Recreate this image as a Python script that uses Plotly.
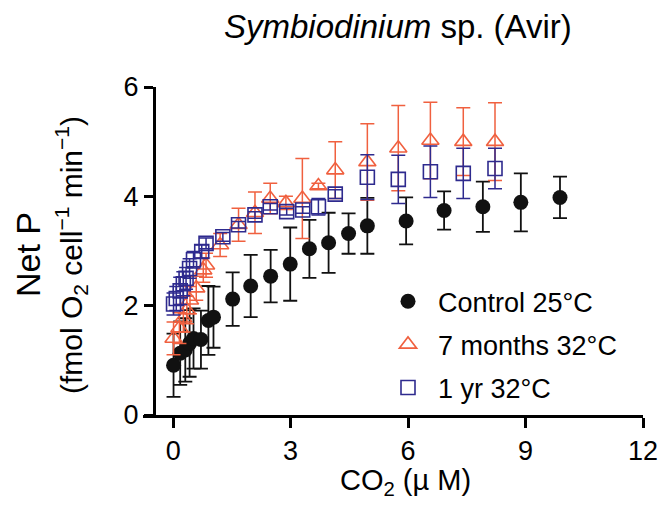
import plotly.graph_objects as go

# ---- data ----
ctrl_x = [0.01, 0.18, 0.31, 0.42, 0.52, 0.71, 0.90, 1.03, 1.52, 1.98, 2.49, 2.99, 3.48, 3.97, 4.48, 4.96, 5.95, 6.92, 7.91, 8.88, 9.88]
ctrl_y = [0.91, 1.13, 1.19, 1.31, 1.40, 1.38, 1.73, 1.79, 2.12, 2.36, 2.54, 2.76, 3.04, 3.15, 3.32, 3.46, 3.55, 3.74, 3.81, 3.89, 3.98]
ctrl_e = [0.58, 0.58, 0.58, 0.61, 0.55, 0.53, 0.63, 0.56, 0.49, 0.57, 0.48, 0.67, 0.53, 0.55, 0.37, 0.51, 0.43, 0.35, 0.46, 0.53, 0.38]

m7_x = [0.01, 0.16, 0.26, 0.35, 0.43, 0.59, 0.77, 0.84, 1.20, 1.67, 2.09, 2.48, 2.88, 3.30, 3.71, 4.14, 4.96, 5.75, 6.57, 7.41, 8.22]
m7_y = [1.40, 1.59, 1.77, 1.92, 2.10, 2.32, 2.65, 2.74, 3.11, 3.48, 3.70, 3.96, 3.88, 3.96, 4.19, 4.48, 4.63, 4.88, 5.02, 5.00, 5.00]
m7_e = [0.30, 0.28, 0.25, 0.25, 0.25, 0.22, 0.22, 0.22, 0.21, 0.30, 0.38, 0.28, 0.12, 0.73, 0.05, 0.52, 0.70, 0.78, 0.70, 0.62, 0.71]

y1_x = [0.01, 0.08, 0.18, 0.26, 0.33, 0.42, 0.52, 0.73, 0.84, 1.27, 1.67, 2.09, 2.48, 2.90, 3.31, 3.71, 4.14, 4.96, 5.75, 6.57, 7.41, 8.22]
y1_y = [2.03, 2.13, 2.27, 2.40, 2.50, 2.68, 2.84, 2.99, 3.14, 3.26, 3.48, 3.66, 3.81, 3.72, 3.75, 3.81, 4.04, 4.35, 4.31, 4.45, 4.42, 4.51]
y1_e = [0.20, 0.22, 0.25, 0.22, 0.20, 0.18, 0.15, 0.12, 0.10, 0.08, 0.06, 0.06, 0.06, 0.06, 0.06, 0.15, 0.08, 0.41, 0.44, 0.47, 0.46, 0.37]

names = ["Control 25°C", "7 months 32°C", "1 yr 32°C"]
x_ticks = [0, 3, 6, 9, 12]
y_ticks = [0, 2, 4, 6]

BLACK = "#111111"
RED = "#F0603F"
BLUE = "#2E2A8E"
FONT = "Liberation Sans, Arial, sans-serif"

fig = go.Figure()
fig.add_trace(go.Scatter(
    x=ctrl_x, y=ctrl_y, mode="markers", name=names[0], legendgroup="a",
    marker=dict(symbol="circle", size=15, color=BLACK),
    error_y=dict(type="data", array=ctrl_e, color=BLACK, thickness=1.8, width=7),
))
fig.add_trace(go.Scatter(
    x=m7_x, y=m7_y, mode="markers", name=names[1], legendgroup="b",
    marker=dict(symbol="triangle-up-open", size=15, color=RED, line=dict(width=1.6, color=RED)),
    error_y=dict(type="data", array=m7_e, color=RED, thickness=1.5, width=7),
))
fig.add_trace(go.Scatter(
    x=y1_x, y=y1_y, mode="markers", name=names[2], legendgroup="c",
    marker=dict(symbol="square-open", size=14, color=BLUE, line=dict(width=1.6, color=BLUE)),
    error_y=dict(type="data", array=y1_e, color=BLUE, thickness=1.5, width=7),
))

x_lo = -0.77
# page body adds an 8px offset; margins compensate so the plot sits at 143..643 x 87..415
fig.update_layout(
    width=667, height=506,
    margin=dict(l=135, r=32, t=79, b=99),
    paper_bgcolor="white", plot_bgcolor="white",
    font=dict(family=FONT, color="black", size=27),
    showlegend=True,
    legend=dict(x=0.47, y=0.42, xanchor="left", yanchor="top",
                font=dict(size=27, family=FONT), tracegroupgap=5,
                traceorder="grouped", bgcolor="rgba(0,0,0,0)", itemwidth=50),
    xaxis=dict(range=[x_lo, 12], tickvals=x_ticks, showline=True, linecolor="black",
               linewidth=2.5, ticks="outside", ticklen=10, tickwidth=2.5, tickcolor="black",
               showgrid=False, zeroline=False, tickfont=dict(size=27)),
    yaxis=dict(range=[0, 6], tickvals=y_ticks, showline=True, linecolor="black",
               linewidth=2.5, ticks="outside", ticklen=9, tickwidth=2.5, tickcolor="black",
               showgrid=False, zeroline=False, anchor="free",
               position=(-0.5 - x_lo) / (12 - x_lo), tickfont=dict(size=27)),
    annotations=[
        dict(text="<i>Symbiodinium</i> sp. (Avir)", xref="paper", yref="paper",
             x=(398 - 143) / 500, y=1, yshift=40, xanchor="center", yanchor="bottom",
             showarrow=False, font=dict(size=33)),
        dict(text="CO<sub>2</sub> (µ M)", xref="paper", yref="paper",
             x=(405 - 143) / 500, y=0, yshift=-47, xanchor="center", yanchor="top",
             showarrow=False, font=dict(size=29)),
        dict(text="Net P", xref="paper", yref="paper", textangle=-90,
             x=0, xshift=-115, y=(415 - 255) / 328, xanchor="center", yanchor="middle",
             showarrow=False, font=dict(size=34)),
        dict(text="(fmol O<sub>2</sub> cell<sup>−1</sup> min<sup>−1</sup>)", xref="paper", yref="paper",
             textangle=-90, x=0, xshift=-72, y=(415 - 255) / 328, xanchor="center", yanchor="middle",
             showarrow=False, font=dict(size=30)),
    ],
)

fig.write_html("out.html")
